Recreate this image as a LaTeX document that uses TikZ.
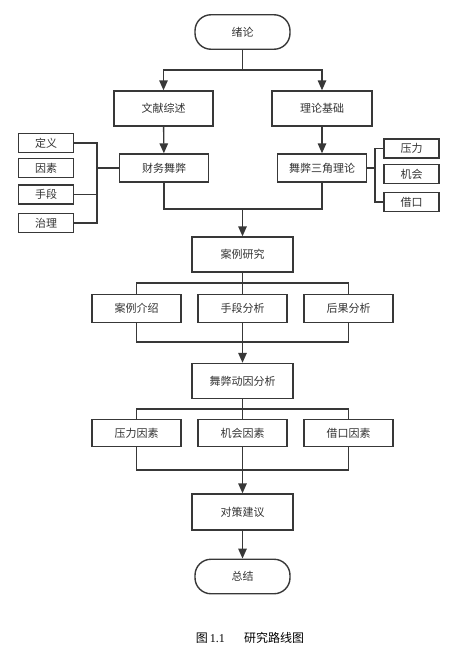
\documentclass[tikz,border=0pt]{standalone}
\usepackage{fontspec}
\setmainfont{Noto Sans CJK SC}
\newfontfamily\capfont{Liberation Serif}
\usetikzlibrary{arrows.meta}
\definecolor{linegray}{HTML}{383838}
\definecolor{textgray}{HTML}{333333}
\tikzset{
  box/.style={draw=linegray, line width=1.4pt, text=textgray, font=\fontsize{11}{13}\selectfont,
    minimum width=101pt, minimum height=35pt, inner sep=0pt},
  mid/.style={box, minimum width=89pt, minimum height=27.5pt},
  tiny/.style={box, minimum width=55pt, minimum height=19pt},
  term/.style={box, minimum width=95pt, minimum height=34.5pt, rounded corners=16pt},
  link/.style={draw=linegray, line width=1.4pt},
  arr/.style={link, -{Triangle[length=10pt,width=8.5pt]}}
}
\begin{document}
\begin{tikzpicture}[x=1pt, y=-1pt]
  \useasboundingbox (0,0) rectangle (462,648);

  % top part
  \node [term] (xl) at (242.5,32) {绪论};
  \node [box, minimum width=99pt] (wx) at (163.5,108.5) {文献综述};
  \node [box, minimum width=100pt] (jc) at (322,108.5) {理论基础};
  \node [mid, minimum height=28pt] (cw) at (164,168) {财务舞弊};
  \node [mid, minimum height=28pt] (sj) at (322,168) {舞弊三角理论};

  \foreach \nm/\txt/\y in {dy/定义/143, ys/因素/168, sd/手段/194.5, zl/治理/223}
    \node [tiny] (\nm) at (46,\y) {\txt};
  \foreach \nm/\txt/\y in {ylx/压力/148.5, jhx/机会/174, jkx/借口/202}
    \node [tiny] (\nm) at (411.5,\y) {\txt};

  \coordinate (j1) at (242.5,70);
  \coordinate (j2) at (242.5,209);
  \coordinate (lb) at (97,168);
  \coordinate (rb) at (375,168);

  \draw [link] (xl) -- (j1);
  \draw [arr] (j1) -| (wx.north);
  \draw [arr] (j1) -| (jc.north);
  \draw [arr] (wx) -- (cw);
  \draw [arr] (jc) -- (sj);

  \draw [link] (dy.east) -| (lb |- zl.east) -- (zl.east);
  \draw [link] (sd.east) -- (sd.east -| lb);
  \draw [link] (lb) -- (cw.west);
  \draw [link] (ylx.west) -| (rb |- jkx.west) -- (jkx.west);
  \draw [link] (sj.east) -- (rb);

  \draw [link] (cw.south) |- (j2) -| (sj.south);

  % case study
  \node [box] (al) at (242.5,254.5) {案例研究};
  \node [mid] (js) at (136.5,308.5) {案例介绍};
  \node [mid] (fx) at (242.5,308.5) {手段分析};
  \node [mid] (hg) at (348.5,308.5) {后果分析};

  \coordinate (j3) at (242.5,283);
  \coordinate (j4) at (242.5,342);
  \draw [arr] (j2) -- (al);
  \draw [link] (al) -- (j3);
  \draw [link] (js.north) |- (j3) -| (hg.north);
  \draw [link] (j3) -- (fx);
  \draw [link] (js.south) |- (j4) -| (hg.south);

  % motives
  \node [box] (dyfx) at (242.5,381) {舞弊动因分析};
  \node [mid] (yl) at (136.5,433) {压力因素};
  \node [mid] (jh) at (242.5,433) {机会因素};
  \node [mid] (jk) at (348.5,433) {借口因素};

  \coordinate (j5) at (242.5,409);
  \coordinate (j6) at (242.5,470);
  \draw [arr] (fx) -- (dyfx);
  \draw [link] (dyfx) -- (j5);
  \draw [link] (yl.north) |- (j5) -| (jk.north);
  \draw [link] (j5) -- (jh);
  \draw [link] (yl.south) |- (j6) -| (jk.south);

  % end
  \node [box, minimum height=36pt] (dc) at (242.5,512) {对策建议};
  \node [term] (zj) at (242.5,576.5) {总结};
  \draw [arr] (jh) -- (dc);
  \draw [arr] (dc) -- (zj);

  \node [font=\fontsize{12}{14}\selectfont] (cap) at (250,638) {图\,{\capfont 1.1}\hspace{1.6em}研究路线图};

\end{tikzpicture}
\end{document}
